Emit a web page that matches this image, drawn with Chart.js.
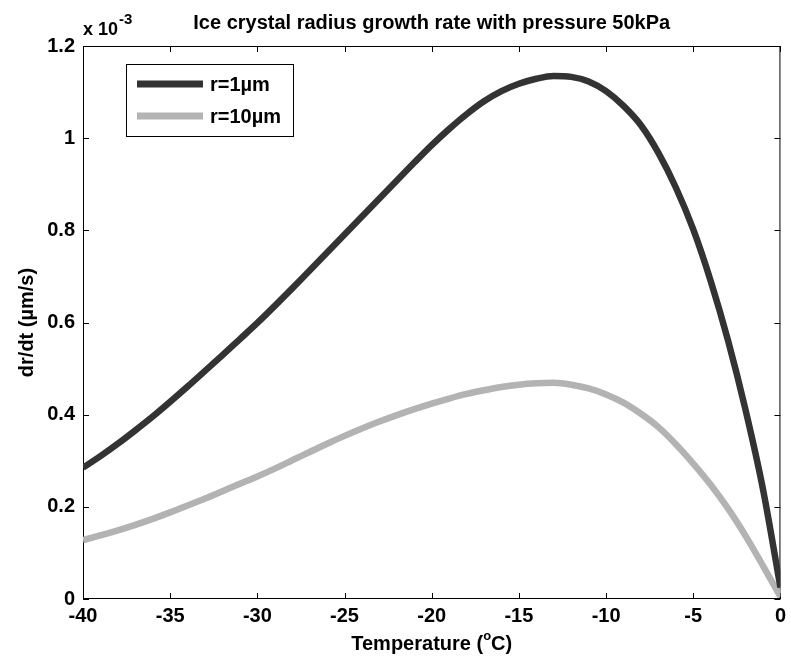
<!DOCTYPE html>
<html>
<head>
<meta charset="utf-8">
<script src="https://cdn.jsdelivr.net/npm/chart.js@4/dist/chart.umd.min.js"></script>
<style>
  body { margin: 0; background: #fff; }
  canvas { display: block; }
</style>
</head>
<body>
<canvas id="grafico" width="791" height="668"></canvas>
<script>
// temperatura (C)
const temps = [-40, -39, -38, -37, -36, -35, -34, -33, -32, -31, -30, -29, -28, -27, -26, -25, -24, -23, -22, -21,
  -20, -19, -18, -17, -16, -15, -14, -13, -12, -11, -10, -9, -8, -7, -6, -5, -4, -3, -2, -1, 0];
// dr/dt x 1e-3 um/s, r = 1um
const r1 = [0.285, 0.310, 0.337, 0.366, 0.396, 0.428, 0.461, 0.495, 0.529, 0.564, 0.599, 0.636, 0.674, 0.713, 0.752, 0.791, 0.830, 0.869, 0.908, 0.947,
  0.985, 1.020, 1.052, 1.080, 1.102, 1.118, 1.129, 1.135, 1.133, 1.123, 1.102, 1.070, 1.028, 0.968, 0.893, 0.802, 0.690, 0.560, 0.410, 0.238, 0.025];
// dr/dt x 1e-3 um/s, r = 10um
const r10 = [0.128, 0.138, 0.149, 0.161, 0.174, 0.188, 0.203, 0.218, 0.234, 0.250, 0.266, 0.283, 0.301, 0.319, 0.337, 0.354, 0.370, 0.385, 0.399, 0.412,
  0.424, 0.435, 0.445, 0.453, 0.460, 0.465, 0.468, 0.469, 0.465, 0.457, 0.444, 0.426, 0.402, 0.373, 0.336, 0.294, 0.248, 0.196, 0.137, 0.072, 0.005];
const xTicks = [-40, -35, -30, -25, -20, -15, -10, -5, 0];
const yTicks = [0, 0.2, 0.4, 0.6, 0.8, 1, 1.2];

const fam = '"Liberation Sans", Arial, Helvetica, sans-serif';
const font = { family: fam, size: 20, weight: "bold" };

const toPoints = (ys) => ys.map((y, i) => ({ x: temps[i], y }));

//marco, ticks, textos y leyenda estilo matlab
const extras = {
  id: "extras",
  beforeDatasetsDraw(chart) {
    const { ctx, chartArea: a, scales } = chart;
    ctx.save();
    ctx.strokeStyle = "#000";
    ctx.lineWidth = 1;
    ctx.strokeRect(a.left + 0.5, a.top + 0.5, a.right - a.left - 1, a.bottom - a.top - 1);
    ctx.beginPath();
    xTicks.forEach((v) => {
      const px = Math.round(scales.x.getPixelForValue(v)) + 0.5;
      ctx.moveTo(px, a.bottom); ctx.lineTo(px, a.bottom - 6);
      ctx.moveTo(px, a.top); ctx.lineTo(px, a.top + 6);
    });
    yTicks.forEach((v) => {
      const py = Math.round(scales.y.getPixelForValue(v)) + 0.5;
      ctx.moveTo(a.left, py); ctx.lineTo(a.left + 6, py);
      ctx.moveTo(a.right, py); ctx.lineTo(a.right - 6, py);
    });
    ctx.stroke();
    ctx.restore();
  },
  afterDraw(chart) {
    const { ctx, chartArea: a } = chart;
    const cx = (a.left + a.right) / 2;
    ctx.save();
    ctx.fillStyle = "#000";
    ctx.font = `bold 20px ${fam}`;
    ctx.textBaseline = "middle";
    ctx.textAlign = "center";
    ctx.fillText("Ice crystal radius growth rate with pressure 50kPa", cx, 23);

    // x 10^-3
    ctx.textAlign = "left";
    ctx.textBaseline = "alphabetic";
    ctx.font = `bold 18px ${fam}`;
    ctx.fillText("x 10", a.left, 35);
    const w10 = ctx.measureText("x 10").width;
    ctx.font = `bold 15px ${fam}`;
    ctx.fillText("-3", a.left + w10 + 1, 24);

    // titulo eje x con superindice
    ctx.font = `bold 20px ${fam}`;
    const p1 = "Temperature (", p2 = "C)";
    const w1 = ctx.measureText(p1).width;
    const w2 = ctx.measureText(p2).width;
    ctx.font = `bold 13px ${fam}`;
    const wo = ctx.measureText("o").width;
    const x0 = cx - (w1 + wo + w2) / 2;
    ctx.font = `bold 20px ${fam}`;
    ctx.fillText(p1, x0, 650);
    ctx.fillText(p2, x0 + w1 + wo, 650);
    ctx.font = `bold 13px ${fam}`;
    ctx.fillText("o", x0 + w1, 640);

    // titulo eje y
    ctx.font = `bold 20px ${fam}`;
    ctx.translate(27, (a.top + a.bottom) / 2);
    ctx.rotate(-Math.PI / 2);
    ctx.textAlign = "center";
    ctx.textBaseline = "middle";
    ctx.fillText("dr/dt (\u00b5m/s)", 0, 0);
    ctx.setTransform(1, 0, 0, 1, 0, 0);

    // leyenda
    ctx.fillStyle = "#fff";
    ctx.fillRect(126, 64, 167, 72);
    ctx.strokeStyle = "#000";
    ctx.lineWidth = 1;
    ctx.strokeRect(126.5, 64.5, 167, 72);
    chart.data.datasets.forEach((ds, i) => {
      const y = 84 + i * 32;
      ctx.strokeStyle = ds.borderColor;
      ctx.lineWidth = 7;
      ctx.beginPath();
      ctx.moveTo(137, y); ctx.lineTo(203, y);
      ctx.stroke();
      ctx.fillStyle = "#000";
      ctx.textAlign = "left";
      ctx.textBaseline = "middle";
      ctx.font = `bold 20px ${fam}`;
      ctx.fillText(ds.label, 210, y + 1);
    });
    ctx.restore();
  },
};

const grafico = document.getElementById("grafico");
const chart = new Chart(grafico, {
  type: "line",
  data: {
    datasets: [
      { label: "r=1\u00b5m", data: toPoints(r1), borderColor: "#333333", borderWidth: 6.5, pointRadius: 0, cubicInterpolationMode: "monotone" },
      { label: "r=10\u00b5m", data: toPoints(r10), borderColor: "#b3b3b3", borderWidth: 6.5, pointRadius: 0, cubicInterpolationMode: "monotone" },
    ],
  },
  options: {
    responsive: false,
    animation: false,
    layout: { padding: { left: 0, right: 8, top: 46, bottom: 0 } },
    plugins: { legend: { display: false }, tooltip: { enabled: false }, title: { display: false } },
    scales: {
      x: {
        type: "linear",
        min: -40,
        max: 0,
        afterBuildTicks: (s) => { s.ticks = xTicks.map((v) => ({ value: v })); },
        ticks: { color: "#000", font, padding: 5, maxRotation: 0, autoSkip: false },
        grid: { display: false, drawTicks: false },
        border: { display: false },
        afterFit: (s) => { s.height = 69; },
      },
      y: {
        min: 0,
        max: 1.2,
        afterBuildTicks: (s) => { s.ticks = yTicks.map((v) => ({ value: v })); },
        ticks: { color: "#000", font, padding: 8, callback: (v) => String(+v.toFixed(1)) },
        grid: { display: false, drawTicks: false },
        border: { display: false },
        afterFit: (s) => { s.width = 83; },
      },
    },
  },
  plugins: [extras],
});
</script>
</body>
</html>
